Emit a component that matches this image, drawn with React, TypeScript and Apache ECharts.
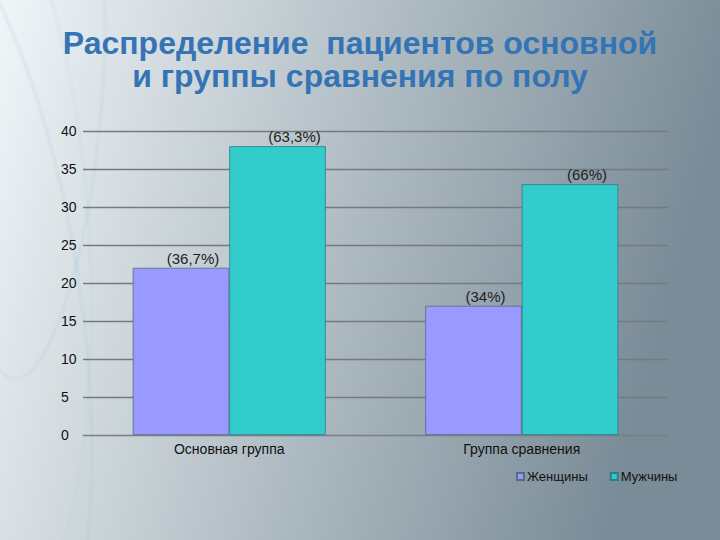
import React, { useEffect, useRef } from "react";
import * as echarts from "echarts";

const categories = ["Основная группа", "Группа сравнения"];
const women = [22, 17];
const men = [38, 33];
const womenLabels = ["(36,7%)", "(34%)"];
const menLabels = ["(63,3%)", "(66%)"];
const yTicks = [0, 5, 10, 15, 20, 25, 30, 35, 40];

export default function App() {
  const ref = useRef<HTMLDivElement>(null);
  useEffect(() => {
    if (!ref.current) return;
    const chart = echarts.init(ref.current, undefined, { renderer: "svg" });
    const font = "'Liberation Sans', Arial, sans-serif";
    const streak = (cx: number, cy: number, rx: number, ry: number, rot: number, color: string) => ({
      type: "ellipse",
      x: cx,
      y: cy,
      rotation: rot,
      shape: { cx: 0, cy: 0, rx, ry },
      style: { fill: "none", stroke: color, lineWidth: 4 },
      silent: true,
      z: -1,
    });
    chart.setOption({
      animation: false,
      backgroundColor: new echarts.graphic.LinearGradient(0, 0, 1, 0.2, [
        { offset: 0, color: "#f0f5f8" },
        { offset: 0.3, color: "#ccd5da" },
        { offset: 0.65, color: "#a3b0b8" },
        { offset: 1, color: "#7a8c98" },
      ]),
      graphic: [
        streak(-60, 300, 140, 420, 0.15, "rgba(150,190,215,0.12)"),
        streak(-20, 250, 110, 380, 0.05, "rgba(170,205,225,0.10)"),
        streak(40, 120, 60, 260, -0.1, "rgba(140,185,215,0.10)"),
        {
          type: "text",
          left: "center",
          top: 26,
          style: {
            text: "Распределение  пациентов основной\nи группы сравнения по полу",
            font: `bold 32px ${font}`,
            fill: "#3474b4",
            textAlign: "center",
            lineHeight: 33,
          },
        },
      ],
      legend: {
        data: ["Женщины", "Мужчины"],
        left: 511,
        top: 465,
        itemWidth: 7,
        itemHeight: 7,
        itemGap: 22,
        icon: "rect",
        textStyle: { fontFamily: font, fontSize: 13, color: "#111", padding: [0, 0, 0, -2] },
      },
      grid: { left: 83, right: 52, top: 131, bottom: 105, containLabel: false },
      xAxis: {
        type: "category",
        data: categories,
        axisLine: { lineStyle: { color: "#7a8088", width: 1.2 } },
        axisTick: { show: false },
        axisLabel: { fontFamily: font, fontSize: 14, color: "#111", margin: 7 },
      },
      yAxis: {
        type: "value",
        min: yTicks[0],
        max: yTicks[yTicks.length - 1],
        interval: 5,
        axisLine: { show: false },
        axisTick: { show: false },
        axisLabel: {
          fontFamily: font,
          fontSize: 14,
          color: "#111",
          margin: 22,
          align: "left",
        },
        splitLine: { lineStyle: { color: "#737a82", width: 1.3 } },
      },
      series: [
        {
          name: "Женщины",
          type: "bar",
          data: women,
          barGap: "0%",
          barCategoryGap: "34%",
          itemStyle: { color: "#9999ff", borderColor: "#5a6a80", borderWidth: 0.8 },
          label: {
            show: true,
            position: "top",
            distance: 2,
            offset: [12, 0],
            fontFamily: font,
            fontSize: 15,
            color: "#222",
            formatter: (p: any) => womenLabels[p.dataIndex],
          },
        },
        {
          name: "Мужчины",
          type: "bar",
          data: men,
          itemStyle: { color: "#33cccc", borderColor: "#2a7f88", borderWidth: 0.8 },
          label: {
            show: true,
            position: "top",
            distance: 2,
            offset: [17, 0],
            fontFamily: font,
            fontSize: 15,
            color: "#222",
            formatter: (p: any) => menLabels[p.dataIndex],
          },
        },
      ],
    });
    return () => chart.dispose();
  }, []);
  return (
    <div
      ref={ref}
      style={{ position: "fixed", left: 0, top: 0, width: 720, height: 540 }}
    />
  );
}
